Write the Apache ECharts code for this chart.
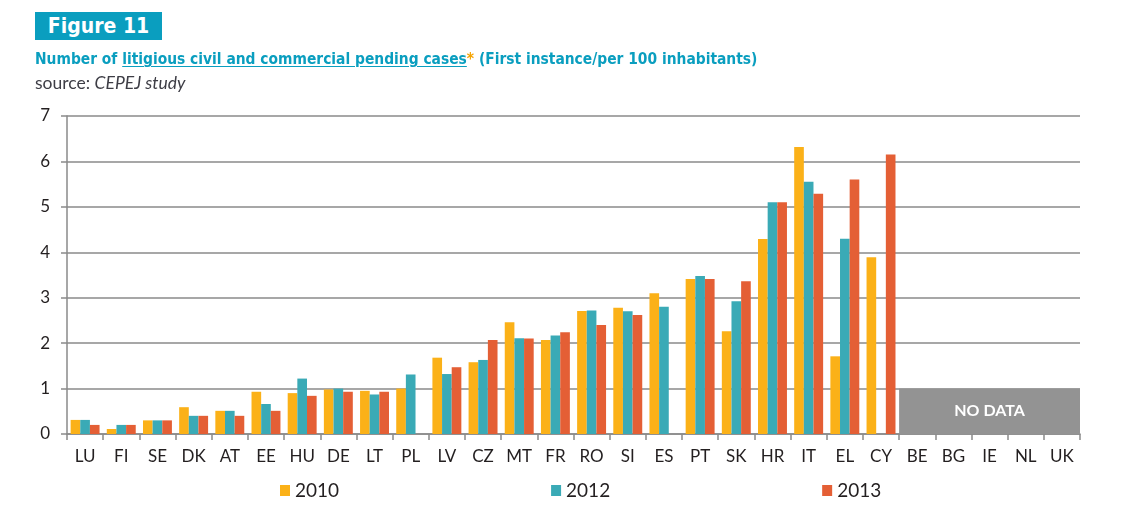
<!DOCTYPE html>
<html>
<head>
<meta charset="utf-8">
<script src="https://cdn.jsdelivr.net/npm/echarts@6/dist/echarts.min.js"></script>
<style>
  html, body { margin: 0; padding: 0; background: #fff; }
  #wrap { position: relative; width: 1130px; height: 518px; overflow: hidden; }
  #chart { position: absolute; left: 0; top: 0; width: 1130px; height: 518px; }
  .hdr { position: absolute; z-index: 2; white-space: nowrap; }
  #fig { left: 35px; top: 12px; width: 127px; height: 28px; background: #0A9EBF; color: #fff;
         font-family: "Liberation Sans Narrow", "DejaVu Sans Condensed", "Roboto", sans-serif;
         font-weight: bold; font-size: 21px; line-height: 28px; text-align: center; }
  #sub { left: 35px; top: 49px; color: #0A9EBF;
         font-family: "Liberation Sans Narrow", "DejaVu Sans Condensed", "Roboto", sans-serif;
         font-weight: bold; font-size: 15.4px; line-height: 20px; }
  #sub u { text-decoration-thickness: 1px; text-underline-offset: 2px; }
  #sub .ast { color: #F5A300; }
  #src { left: 35px; top: 73px; color: #3d3d45;
         font-family: Lato, "Open Sans", sans-serif; font-size: 17.5px; line-height: 20px; }
</style>
</head>
<body>
<div id="wrap">
  <div id="fig" class="hdr">Figure 11</div>
  <div id="sub" class="hdr">Number of <u>litigious civil and commercial pending cases</u><span class="ast">*</span> (First instance/per 100 inhabitants)</div>
  <div id="src" class="hdr">source: <i>CEPEJ study</i></div>
  <div id="chart"></div>
</div>
<script>
const categories = ['LU','FI','SE','DK','AT','EE','HU','DE','LT','PL','LV','CZ','MT','FR','RO','SI','ES','PT','SK','HR','IT','EL','CY','BE','BG','IE','NL','UK'];
const seriesNames = ['2010','2012','2013'];
const v2010 = [0.31,0.11,0.30,0.59,0.51,0.93,0.90,0.98,0.95,1.00,1.68,1.58,2.46,2.07,2.71,2.78,3.10,3.41,2.26,4.29,6.32,1.71,3.89,null,null,null,null,null];
const v2012 = [0.31,0.20,0.30,0.40,0.51,0.66,1.22,1.00,0.87,1.31,1.32,1.63,2.11,2.17,2.72,2.70,2.80,3.48,2.92,5.10,5.55,4.30,null,null,null,null,null,null];
const v2013 = [0.20,0.20,0.30,0.40,0.40,0.51,0.84,0.93,0.93,null,1.47,2.07,2.10,2.24,2.40,2.62,null,3.41,3.36,5.10,5.29,5.60,6.15,null,null,null,null,null];
const noDataCountries = ['BE','BG','IE','NL','UK'];
const noDataValue = 1;
const noDataLabel = 'NO DATA';
const yTicks = [0,1,2,3,4,5,6,7];

const colors = ['#FBB118','#3AAAB6','#E45F35'];
const font = 'Lato, "Open Sans", sans-serif';

const chart = echarts.init(document.getElementById('chart'), null, {renderer: 'canvas'});

const barSeries = [v2010, v2012, v2013].map((d, i) => ({
  name: seriesNames[i],
  type: 'bar',
  data: d,
  xAxisIndex: 0,
  barGap: '0%',
  barCategoryGap: '20%',
  itemStyle: { color: colors[i] },
  emphasis: { disabled: true }
}));

const ndStart = categories.indexOf(noDataCountries[0]);
const ndEnd = categories.indexOf(noDataCountries[noDataCountries.length - 1]) + 1;
const noDataSeries = {
  name: 'nodata',
  type: 'line',
  xAxisIndex: 1,
  data: [],
  silent: true,
  markArea: {
    silent: true,
    itemStyle: { color: '#939393', opacity: 1 },
    label: { show: true, position: 'inside', color: '#fff', fontWeight: 'bold', fontSize: 16, fontFamily: font },
    data: [[{ name: noDataLabel, xAxis: ndStart, yAxis: 0 }, { xAxis: ndEnd, yAxis: noDataValue }]]
  }
};

chart.setOption({
  animation: false,
  grid: { left: 67, right: 50, top: 116, bottom: 84 },
  legend: {
    data: seriesNames,
    left: 275, top: 476,
    itemWidth: 10, itemHeight: 11, itemGap: 212,
    icon: 'rect',
    textStyle: { fontSize: 19, color: '#231F20', fontFamily: font }
  },
  xAxis: [{
    type: 'category',
    data: categories,
    axisLine: { lineStyle: { color: '#8a8a8a', width: 1.5 } },
    axisTick: { show: true, length: 6, lineStyle: { color: '#8a8a8a', width: 1.5 } },
    axisLabel: { color: '#231F20', fontSize: 17, margin: 14, fontFamily: font, interval: 0 }
  }, {
    type: 'value',
    min: 0, max: categories.length,
    show: false
  }],
  yAxis: {
    type: 'value',
    min: 0, max: 7, interval: 1,
    axisLine: { show: true, lineStyle: { color: '#8a8a8a', width: 1.5 } },
    axisTick: { show: true, length: 6, lineStyle: { color: '#8a8a8a', width: 1.5 } },
    axisLabel: { color: '#231F20', fontSize: 17, margin: 17, fontFamily: font,
                 formatter: v => yTicks.includes(v) ? String(v) : '' },
    splitLine: { lineStyle: { color: '#8a8a8a', width: 1.5 } }
  },
  series: [...barSeries, noDataSeries]
});
</script>
</body>
</html>
